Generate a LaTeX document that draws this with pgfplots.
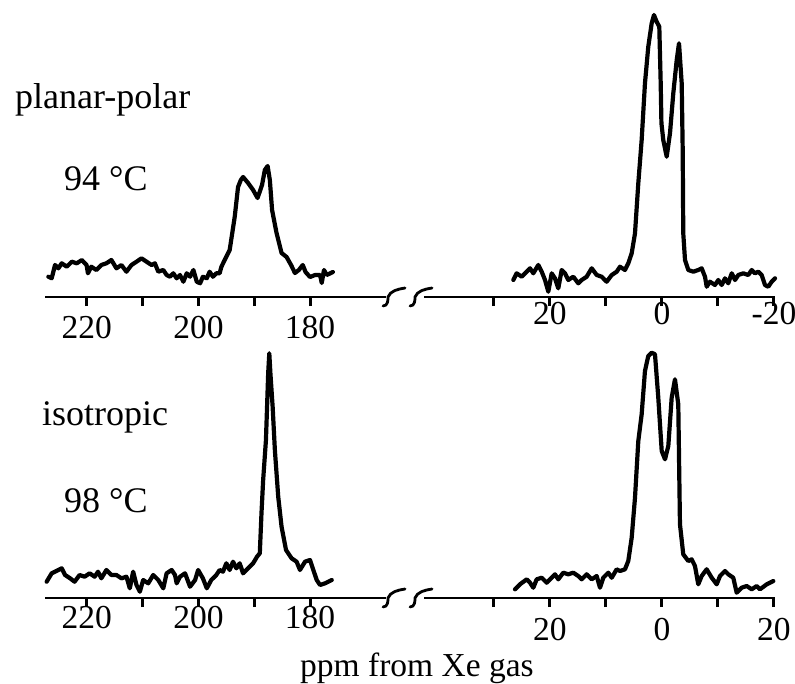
\documentclass[border=0pt]{standalone}
\usepackage{fontspec}
\setmainfont{Liberation Serif}
\usepackage{pgfplots}
\pgfplotsset{compat=1.18}
\newcommand\lfs{\fontsize{36}{40}\selectfont}
\newcommand\tfs{\fontsize{33.5}{38}\selectfont}
\pgfplotsset{
  spec/.style={scale only axis, clip=false, hide y axis, axis x line=bottom,
    axis line style={-, line width=2.8pt, black}, x dir=reverse,
    ymin=0, ymax=290, height=290pt, tick align=outside, major tick length=9pt,
    every tick/.append style={line width=3pt, black},
    every major tick/.append style={line width=3pt, black}, xtick pos=bottom,
    xticklabel style={font=\tfs, inner sep=0pt}},
  sp/.style={black, mark=none, line width=4.2pt, line join=round, line cap=round},
  leftax/.style={spec, xmin=166.4, xmax=227.5, width=340.9pt,
    xtick={220,210,200,190,180}, xticklabels={220,,200,,180}},
  rightax/.style={spec, xmin=-20.2, xmax=42.5, width=351.1pt,
    xtick={30,20,10,0,-10,-20}}
}
\begin{document}
\begin{tikzpicture}[x=1pt,y=1pt]
\useasboundingbox (0,0) rectangle (795,-683);
% top left
\begin{axis}[leftax, at={(45pt,-297pt)}, anchor=south west, xticklabel style={yshift=-10pt}]
\addplot[sp] coordinates {(226.9,20.3)(226.3,18.7)(225.7,32)(225.1,28.7)(224.5,33.7)(223.6,30.3)(222.7,35.3)(221.8,33.7)(220.9,37)(220.05,32)(219.8,23.7)(219.2,30.3)(218.3,27)(217.4,32)(216.5,33.7)(215.6,37)(214.7,28.7)(213.8,32)(212.9,25.3)(212.0,32)(211.1,35.3)(210.2,38.7)(209.3,35.3)(208.4,32)(207.8,33.7)(207.2,25.3)(206.3,27)(205.7,22)(205.1,20.3)(204.5,23.7)(203.9,18.7)(203.3,22)(202.7,15.3)(202.1,23.7)(201.5,20.3)(200.9,27)(200.3,15.3)(199.7,13.7)(199.2,20.3)(198.5,18.7)(198.0,25.3)(197.4,20.3)(196.8,23.7)(196.2,23.7)(195.9,30)(195.3,37)(194.4,47)(193.5,80)(192.9,110)(192.4,117)(192.0,120)(191.1,114)(190.2,107)(189.4,99)(188.6,112)(188.1,127)(187.6,131)(187.2,117)(186.8,87)(186.0,64)(185.1,44)(184.2,40)(183.4,32)(182.7,24)(182.0,27)(181.3,32)(180.8,25)(180.0,20)(179.1,22)(178.2,22)(177.9,14)(177.5,27)(177.0,22)(175.9,25)};
\end{axis}
% top right
\begin{axis}[rightax, at={(424pt,-297pt)}, anchor=south west, xticklabels={,20,,0,,-20}, xticklabel style={yshift=4pt}]
\addplot[sp] coordinates {(26.55,17)(25.95,23.7)(25.05,20.3)(24.16,25.3)(23.57,28.7)(22.98,23.7)(22.09,32)(21.48,25.3)(20.89,17)(20.30,5.3)(19.70,23.7)(19.11,18.7)(18.52,8.7)(17.91,27)(17.32,23.7)(16.73,17)(15.84,20.3)(14.95,13.7)(14.34,17)(13.45,20.3)(12.55,28.7)(11.66,22)(10.77,20.3)(9.88,15.3)(8.98,22)(8.09,25.3)(7.5,30.3)(6.61,27)(6.02,33.7)(5.41,43.7)(4.82,63.7)(4.23,113.7)(3.63,157)(3.04,213.7)(2.45,250.3)(1.84,273.7)(1.43,282)(0.95,275.3)(0.48,270.3)(0.23,213.7)(0.1,173.7)(-0.23,157)(-0.84,140.3)(-1.43,163.7)(-2.02,203.7)(-2.63,237)(-3.04,253.7)(-3.52,213.7)(-3.70,147)(-3.80,63.7)(-4.11,37)(-4.70,27)(-5.59,25.3)(-6.48,27)(-7.09,28.7)(-7.68,20.3)(-7.98,10.3)(-8.57,15.3)(-9.46,12)(-10.05,17)(-10.66,12)(-11.25,18.7)(-11.84,13.7)(-12.45,23.7)(-13.04,17)(-13.63,22)(-14.52,23.7)(-15.41,22)(-16.02,27)(-16.61,23.7)(-17.20,25.3)(-17.80,22)(-18.39,12)(-18.98,10.3)(-19.59,15.3)(-20.18,18.7)};
\end{axis}
% bottom left
\begin{axis}[leftax, at={(45pt,-598pt)}, anchor=south west, xticklabel style={yshift=1pt}]
\addplot[sp] coordinates {(227.2,16.3)(226.3,24.7)(225.1,28)(224.5,29.7)(223.9,23)(223.0,19.7)(222.2,16.3)(221.3,23)(220.4,21.3)(219.5,24.7)(218.6,21.3)(218.0,26.3)(217.4,19.7)(216.5,28)(215.6,23)(214.7,23)(213.8,19.7)(212.9,21.3)(212.3,9.7)(211.7,26.3)(211.1,13)(210.5,6.3)(209.9,18)(209.0,14.7)(208.1,23)(207.2,18)(206.3,9.7)(205.7,24.7)(204.8,28)(204.2,23)(203.9,14.7)(203.3,21.3)(202.4,24.7)(201.5,11.3)(200.6,18)(200.05,28)(199.2,19.7)(198.5,9.7)(197.7,18)(196.8,23)(196.2,28)(195.6,26.3)(195.0,34.7)(194.4,28)(193.8,36.3)(193.2,29.7)(192.6,34.7)(192.0,24.7)(191.1,29.7)(190.2,34.7)(189.5,41.3)(189.0,44.7)(188.7,84.7)(188.4,118)(187.9,158)(187.7,191)(187.5,224.7)(187.3,244.7)(187.1,224.7)(186.7,191.3)(186.3,148)(185.7,101.3)(185.1,71.3)(184.3,48)(183.3,39.7)(182.4,36.3)(181.8,28)(180.9,36.3)(180.0,38)(179.4,28)(178.8,18)(178.2,13)(177.3,14.7)(176.1,18)};
\end{axis}
% bottom right
\begin{axis}[rightax, at={(424pt,-598pt)}, anchor=south west, xticklabels={,20,,0,,20}, xticklabel style={yshift=-11pt}]
\addplot[sp] coordinates {(26.25,8.7)(25.36,13.7)(24.16,18.7)(23.57,15.3)(22.98,10.3)(22.38,18.7)(21.48,20.3)(20.59,15.3)(19.70,20.3)(19.11,23.7)(18.52,18.7)(17.63,25.3)(16.73,23.7)(15.84,25.3)(14.95,22)(14.34,18.7)(13.45,23.7)(12.55,18.7)(11.66,22)(11.07,10.3)(10.48,20.3)(9.59,25.3)(8.98,20.3)(8.09,28.7)(7.5,27)(6.61,28.7)(6.02,37)(5.41,60.3)(4.82,100.3)(4.23,157)(3.63,183.7)(3.04,227)(2.45,242)(1.84,245.3)(1.25,243.7)(0.66,200.3)(0.05,147)(-0.54,138.7)(-1.13,152)(-1.73,200.3)(-2.32,218.7)(-2.91,193.7)(-3.21,73.7)(-3.80,43.7)(-4.70,37)(-5.30,38.7)(-5.89,32)(-6.48,13.7)(-7.09,22)(-7.98,28.7)(-8.88,20.3)(-9.77,13.7)(-10.36,22)(-11.25,27)(-11.84,23.7)(-12.73,20.3)(-13.34,5.3)(-14.23,10.3)(-15.13,12)(-16.02,8.7)(-16.91,12)(-17.5,8.7)(-18.70,13.7)(-19.88,17)};
\end{axis}
% axis breaks
\foreach \bx/\by in {386/-297, 413/-297, 386/-598, 413/-598}{
  \draw[line width=2.8pt, line cap=round, shift={(\bx,\by)}]
    (-3,-9) .. controls (2,-9) and (2,-3) .. (2,0) .. controls (4,6) and (12,8) .. (19,9);
}
% labels
\node[anchor=base west, inner sep=0pt, font=\lfs] at (15,-108) {planar-polar};
\node[anchor=base west, inner sep=0pt, font=\lfs] at (64,-190) {94 °C};
\node[anchor=base west, inner sep=0pt, font=\lfs] at (42,-425) {isotropic};
\node[anchor=base west, inner sep=0pt, font=\lfs] at (64,-512) {98 °C};
\node[anchor=base west, inner sep=0pt, font=\tfs] at (300,-676) {ppm from Xe gas};
\end{tikzpicture}
\end{document}
